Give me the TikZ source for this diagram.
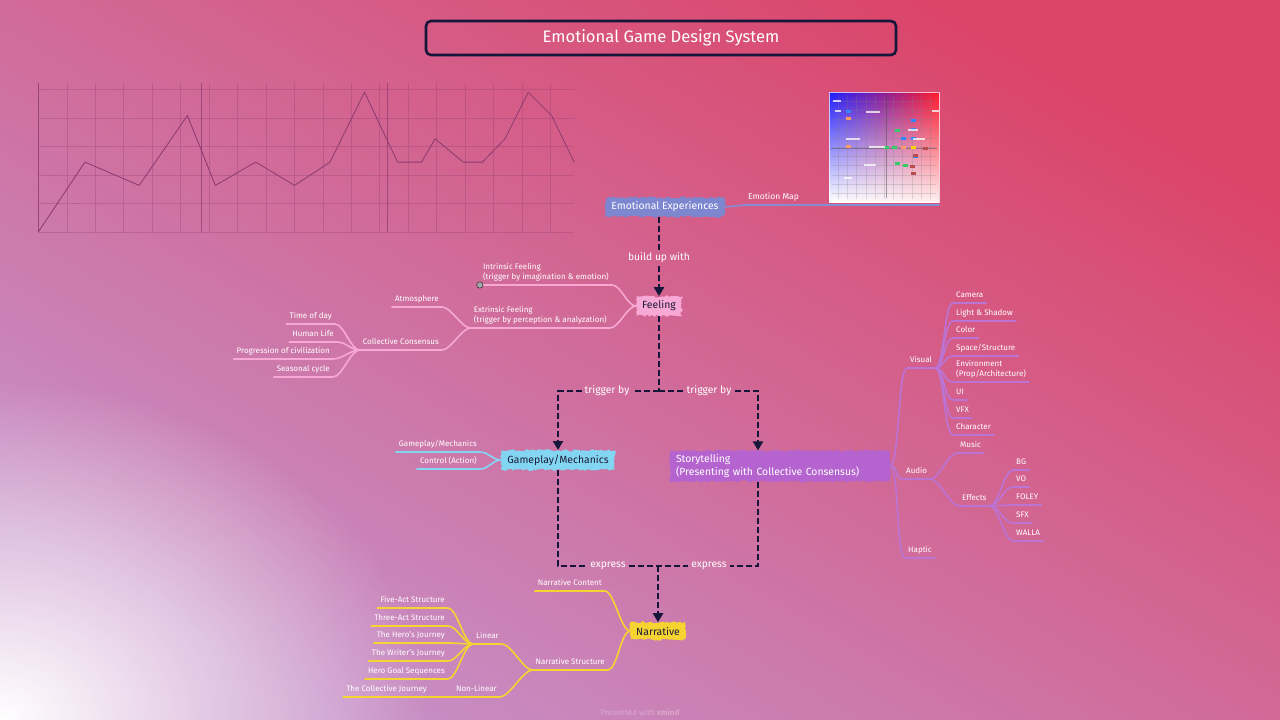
\documentclass[tikz,border=0pt]{standalone}
\usepackage{fontspec}
\setmainfont{Fira Sans}
\usetikzlibrary{positioning, calc, arrows.meta, decorations.pathmorphing, fadings, shadings}

\definecolor{navy}{HTML}{15163A}
\definecolor{darktxt}{HTML}{1E1B3A}
\definecolor{bgred}{HTML}{DC4468}
\definecolor{bglav}{HTML}{C690C8}
\definecolor{eeblue}{HTML}{7C87D0}
\definecolor{feelpink}{HTML}{F7A8D4}
\definecolor{gmcyan}{HTML}{82D6F2}
\definecolor{stpurple}{HTML}{B463CF}
\definecolor{naryellow}{HTML}{F5D330}
\definecolor{chartln}{HTML}{8A3A70}
\definecolor{mapblue}{HTML}{1E1EFF}
\definecolor{mapred}{HTML}{FF1A2A}

\tikzfading[name=glowfade, inner color=transparent!0, outer color=transparent!100]
\pgfmathsetseed{7}

\tikzset{
  topic/.style={font=\fontsize{10.4}{12.5}\selectfont, inner xsep=6pt, inner ysep=4.5pt,
    decorate, decoration={random steps, segment length=2pt, amplitude=1.2pt}},
  lbl/.style={font=\fontsize{8}{9.5}\selectfont, text=white, inner xsep=3pt, inner ysep=4pt,
    text depth=1.5pt, align=left},
  flowline/.style={draw=navy, line width=2.7pt, dash pattern=on 6pt off 3pt},
  flowtip/.style={flowline, -{Triangle[length=9pt, width=10pt]}},
  flowlbl/.style={font=\fontsize{10.3}{12}\selectfont, text=white, inner sep=3pt},
  branch/.style={line width=1.6pt, line cap=round},
  bluebr/.style={branch, draw=eeblue!95!white},
  pinkbr/.style={branch, draw=feelpink},
  cyanbr/.style={branch, draw=gmcyan},
  purplebr/.style={branch, draw=stpurple!90!white},
  yellowbr/.style={branch, draw=naryellow},
  rcurve/.style={out=0, in=180, distance=9pt},
  lcurve/.style={out=180, in=0, distance=9pt},
  chartgrid/.style={draw=chartln, opacity=0.3, line width=0.5pt},
  chartaxis/.style={draw=chartln, opacity=0.7, line width=0.7pt},
}

\begin{document}
\begin{tikzpicture}[x=1pt, y=-1pt]
	\useasboundingbox (0,0) rectangle (1280,720);
	% background
	\shade[top color=bgred, bottom color=bglav, shading angle=-30] (0,0) rectangle (1280,720);
	\fill[white, path fading=glowfade] (0,720) ellipse [x radius=430, y radius=340];

	% title
	\node[draw=navy, line width=2.6pt, rounded corners=5pt, minimum width=470pt, minimum height=34pt,
		text=white, font=\fontsize{16.6}{19}\selectfont] (title) at (661,38) {Emotional Game Design System};

	% curve chart
	\begin{scope}[shift={(38.3,232)}, x=23.3pt, y=23.3pt]
		\draw[chartgrid] (0,0) grid (23,6.4);
		\foreach \c in {0,7,15} {
			\draw[chartaxis] (\c,0) -- (\c,6.4);
		}
		\draw[chartln, line width=0.8pt, line join=round] (0,0) -- (2,3) -- (4.33,2) -- (6.4,5) -- (7.6,2) -- (9.33,3)
			-- (11,2) -- (12.52,3) -- (14,6) -- (15.42,3) -- (16.45,3) -- (17.03,4) -- (18.24,3)
			-- (19.06,3) -- (20.03,4) -- (21.03,6) -- (22.03,5) -- (23,3);
	\end{scope}

	% emotion map picture
	\shade[upper left=mapblue, upper right=mapred, lower left=white, lower right=white!94!red] (829,92) rectangle (939,202);
	\foreach \i in {1,...,11} {
		\draw[gray, opacity=0.25, line width=0.3pt] (829+9.2*\i,95) -- (829+9.2*\i,199);
		\draw[gray, opacity=0.25, line width=0.3pt] (832,92+9.2*\i) -- (936,92+9.2*\i);
	}
	\draw[gray!60!black, opacity=0.5, line width=0.4pt] (886,96) -- (886,198);
	\draw[gray!60!black, opacity=0.5, line width=0.4pt] (831,148) -- (937,148);
	\foreach \px/\py in {848/111, 913/120, 913/129, 903/138, 913/138, 915/156} {
		\fill[blue!60!cyan!80] (\px-2.5,\py-1.5) rectangle (\px+2.5,\py+1.5);
	}
	\foreach \px/\py in {848/118, 848/146, 903/147} {
		\fill[orange!70!red!60] (\px-2.5,\py-1.5) rectangle (\px+2.5,\py+1.5);
	}
	\foreach \px/\py in {897/130, 886/147, 894/147, 897/163, 905/165} {
		\fill[green!50!teal!80] (\px-2.5,\py-1.5) rectangle (\px+2.5,\py+1.5);
	}
	\foreach \px/\py in {925/148, 915/155, 912/166, 913/173} {
		\fill[red!60!black!70] (\px-2.5,\py-1.5) rectangle (\px+2.5,\py+1.5);
	}
	\fill[yellow!70!orange] (910.5,145.5) rectangle (915.5,148.5);
	\foreach \px/\py/\w in {837/101/8, 838/111/6, 873/112/14, 913/130/10, 853/139/14, 877/147/16, 919/139/12, 870/165/12, 848/178/8, 935/111/7} {
		\fill[white, opacity=0.75] (\px-\w/2,\py-0.8) rectangle (\px+\w/2,\py+0.8);
	}
	\draw[white, opacity=0.7, line width=0.5pt] (829,92) rectangle (939,202);

	% main topics
	\node[topic, fill=eeblue, text=white] (ee) at (665,207) {Emotional Experiences};
	\node[topic, fill=feelpink, text=darktxt] (feel) at (659,306) {Feeling};
	\node[topic, fill=gmcyan, text=darktxt] (gm) at (558,460) {Gameplay/Mechanics};
	\node[topic, fill=stpurple, text=white, text width=208pt, align=left, inner ysep=4pt] (st) at (780,466)
		{Storytelling\\(Presenting with Collective Consensus)};
	\node[topic, fill=naryellow, text=darktxt] (nar) at (658,631) {Narrative};

	% emotion map branch
	\node[lbl, anchor=south west, font=\fontsize{8.5}{10}\selectfont] (emap) at (745,205) {Emotion Map};
	\coordinate (mapend) at (939,205);
	\draw[bluebr] (ee.east) -- (emap.south west) -- (mapend);

	% dashed flow
	\node[flowlbl] (bu) at (659,258) {build up with};
	\draw[flowline] (ee.south -| bu.north) -- (bu.north);
	\draw[flowtip] (bu.south) -- (feel.north);

	\coordinate (tj) at (659,391);
	\node[flowlbl] (tb1) at (607,391) {trigger by};
	\node[flowlbl] (tb2) at (709,391) {trigger by};
	\draw[flowline] (feel.south) -- (tj);
	\draw[flowline] (tj) -- (tb1.east);
	\draw[flowline] (tj) -- (tb2.west);
	\draw[flowtip] (tb1.west) -| (gm.north);
	\draw[flowtip] (tb2.east) -| ([xshift=-22pt]st.north);

	\coordinate (ej) at (658,566);
	\node[flowlbl] (ex1) at (608,566) {express};
	\node[flowlbl] (ex2) at (709,566) {express};
	\draw[flowline] (gm.south) |- (ex1.west);
	\draw[flowline] ([xshift=-22pt]st.south) |- (ex2.east);
	\draw[flowline] (ex1.east) -- (ej) -- (ex2.west);
	\draw[flowtip] (ej) -- (nar.north);

	% feeling branches
	\node[lbl, anchor=south east] (intr) at (612,285) {Intrinsic Feeling\\(trigger by imagination \& emotion)};
	\node[lbl, anchor=south east] (extr) at (610,328) {Extrinsic Feeling\\(trigger by perception \& analyzation)};
	\node[lbl, anchor=south east] (atm) at (442,307) {Atmosphere};
	\node[lbl, anchor=south east] (cc) at (442,350) {Collective Consensus};
	\draw[pinkbr] (feel.west) to[lcurve] (intr.south east) -- (intr.south west);
	\draw[pinkbr] (feel.west) to[lcurve] (extr.south east) -- (extr.south west);
	\draw[pinkbr] (extr.south west) to[lcurve] (atm.south east) -- (atm.south west);
	\draw[pinkbr] (extr.south west) to[lcurve] (cc.south east) -- (cc.south west);
	\foreach \nm/\xx/\yy/\txt in {tod/335/324/Time of day, hl/337/342/Human Life,
		poc/333/359/Progression of civilization, sc/333/377/Seasonal cycle} {
		\node[lbl, anchor=south east] (\nm) at (\xx,\yy) {\txt};
		\draw[pinkbr] (cc.south west) to[lcurve] (\nm.south east) -- (\nm.south west);
	}
	\filldraw[fill=gray!70, draw=gray!30!black, line width=0.5pt] (intr.south west) circle (3.2pt);

	% gameplay branches
	\node[lbl, anchor=south east] (gm1) at (480,452) {Gameplay/Mechanics};
	\node[lbl, anchor=south east] (gm2) at (480,469) {Control (Action)};
	\draw[cyanbr] (gm.west) to[lcurve] (gm1.south east) -- (gm1.south west);
	\draw[cyanbr] (gm.west) to[lcurve] (gm2.south east) -- (gm2.south west);

	% storytelling branches
	\node[lbl, anchor=south west] (vis) at (907,368) {Visual};
	\node[lbl, anchor=south west] (aud) at (903,479) {Audio};
	\node[lbl, anchor=south west] (hap) at (905,558) {Haptic};
	\foreach \nm in {vis, aud, hap} {
		\draw[purplebr] (st.east) to[rcurve] (\nm.south west) -- (\nm.south east);
	}
	\foreach \nm/\yy/\txt in {cam/303/Camera, lsh/321/Light \& Shadow, col/338/Color,
		sps/356/{Space/Structure}, env/382/{Environment\\(Prop/Architecture)}, ui/400/UI,
		vfx/418/VFX, chr/435/Character} {
		\node[lbl, anchor=south west] (\nm) at (953,\yy) {\txt};
		\draw[purplebr] (vis.south east) to[rcurve] (\nm.south west) -- (\nm.south east);
	}
	\node[lbl, anchor=south west] (mus) at (957,453) {Music};
	\node[lbl, anchor=south west] (eff) at (959,506) {Effects};
	\draw[purplebr] (aud.south east) to[rcurve] (mus.south west) -- (mus.south east);
	\draw[purplebr] (aud.south east) to[rcurve] (eff.south west) -- (eff.south east);
	\foreach \nm/\yy/\txt in {bg/470/BG, vo/487/VO, fol/505/FOLEY, sfx/523/SFX, wal/541/WALLA} {
		\node[lbl, anchor=south west] (\nm) at (1013,\yy) {\txt};
		\draw[purplebr] (eff.south east) to[rcurve] (\nm.south west) -- (\nm.south east);
	}

	% narrative branches
	\node[lbl, anchor=south east] (nc) at (605,591) {Narrative Content};
	\node[lbl, anchor=south east] (ns) at (608,670) {Narrative Structure};
	\draw[yellowbr] (nar.west) to[lcurve] (nc.south east) -- (nc.south west);
	\draw[yellowbr] (nar.west) to[lcurve] (ns.south east) -- (ns.south west);
	\node[lbl, anchor=south east] (lin) at (502,644) {Linear};
	\node[lbl, anchor=south east] (nl) at (500,697) {Non-Linear};
	\draw[yellowbr] (ns.south west) to[lcurve] (lin.south east) -- (lin.south west);
	\draw[yellowbr] (ns.south west) to[lcurve] (nl.south east) -- (nl.south west);
	\foreach \nm/\yy/\txt in {fas/608/Five-Act Structure, tas/626/Three-Act Structure,
		hj/643/The Hero’s Journey, wj/661/The Writer’s Journey, hgs/679/Hero Goal Sequences} {
		\node[lbl, anchor=south east] (\nm) at (448,\yy) {\txt};
		\draw[yellowbr] (lin.south west) to[lcurve] (\nm.south east) -- (\nm.south west);
	}
	\node[lbl, anchor=south east] (tcj) at (430,697) {The Collective Journey};
	\draw[yellowbr] (nl.south west) -- (tcj.south east) -- (tcj.south west);

	% watermark
	\node[text=white, opacity=0.3, font=\fontsize{8}{9}\selectfont] (wm) at (640,712) {Presented with \textbf{xmind}};
\end{tikzpicture}
\end{document}
